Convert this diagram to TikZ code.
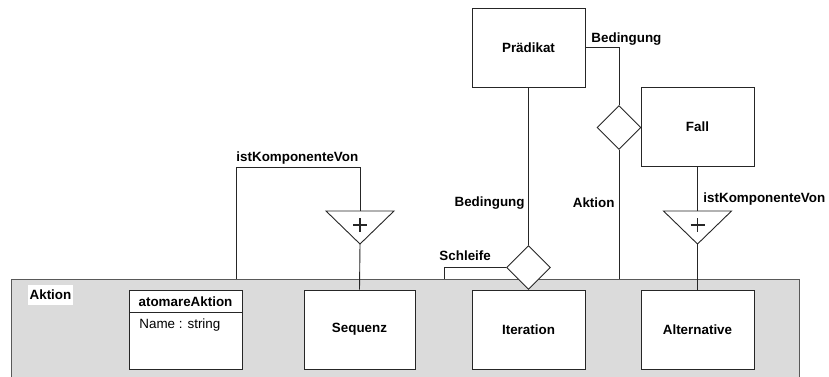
\documentclass[tikz,border=0pt]{standalone}
\usepackage{fontspec}
\setmainfont{Liberation Sans}
\usetikzlibrary{shapes.geometric}
\begin{document}
\begin{tikzpicture}[x=1pt,y=-1pt,
  line width=0.9pt,
  every node/.style={font=\fontsize{13.4}{16}\selectfont\bfseries},
  cls/.style={draw=black!85, fill=white, minimum width=113pt, minimum height=79pt, inner sep=0pt},
  rel/.style={draw=black!85, fill=white, diamond, inner sep=0pt, minimum size=44pt},
  lbl/.style={inner sep=1pt},
  conn/.style={draw=black!85},
  plus/.style={draw=black!85, line width=1.1pt}]
\useasboundingbox (0,0) rectangle (829,376);

% container of all actions
\path[fill=black!14, draw=black!65] (11,279) rectangle (799,385);
\coordinate (aktiontop) at (400,279);
\node[fill=white, inner sep=0pt, minimum width=45pt, minimum height=20pt] (aktionlbl) at (50.5,295) {Aktion};

% classes
\node[cls] (praedikat) at (528.5,47.5) {Prädikat};
\node[cls] (fall) at (697.5,126.5) {Fall};
\node[cls, minimum width=111pt] (sequenz) at (359.5,329.5) {Sequenz};
\node[cls] (iteration) at (528.5,329.5) {Iteration};
\node[cls] (alternative) at (697.5,329.5) {Alternative};

% atomic action with attribute compartment
\node[cls] (atomar) at (185.5,329.5) {};
\draw[black!85] (129,312.5) -- (242,312.5);
\node[anchor=center] (atomarname) at (185.5,301.5) {atomareAktion};
\node[anchor=west, inner sep=0pt, font=\fontsize{13.4}{16}\selectfont] (atomarattr) at (139,325) {Name : string};

% relationship diamonds
\node[rel] (schleife) at (528.5,267.5) {};
\node[rel] (bedingung) at (619,127.5) {};

% aggregation triangles
\coordinate (tri1top) at (360,211);
\coordinate (tri1apex) at (360,244);
\coordinate (tri2top) at (697.5,211);
\coordinate (tri2apex) at (697.5,244);
\draw[black!85, fill=white] (326,211) -- (394,211) -- (tri1apex) -- cycle;
\draw[black!85, fill=white] (663.5,211) -- (731.5,211) -- (tri2apex) -- cycle;
\draw[plus] (353,225) -- (367,225) (360,218) -- (360,232);
\draw[plus] (690.5,225) -- (704.5,225) (697.5,218) -- (697.5,232);

% connectors
\coordinate (k1) at (236,167);
\draw[conn] (tri1top) |- (k1) -- (k1 |- aktiontop);
\draw[conn] (tri1apex) -- (sequenz.north);
\draw[conn] (fall.south) -- (tri2top);
\draw[conn] (tri2apex) -- (alternative.north);
\draw[conn] (praedikat.south) -- (schleife.north);
\draw[conn] (praedikat.east) -| (bedingung.north);
\draw[conn] (bedingung.south) -- (bedingung.south |- aktiontop);
\coordinate (s1) at (444,267.5);
\draw[conn] (schleife.west) -- (s1) -- (s1 |- aktiontop);

% role labels
\node[lbl, anchor=south west] (l1) at (235,166) {istKomponenteVon};
\node[lbl, anchor=west] (l2) at (702,199) {istKomponenteVon};
\node[lbl, anchor=east] (l3) at (526,203) {Bedingung};
\node[lbl, anchor=east] (l4) at (616,203) {Aktion};
\node[lbl, anchor=south west] (l5) at (438,262) {Schleife};
\node[lbl, anchor=south west] (l6) at (590,47) {Bedingung};
\end{tikzpicture}
\end{document}
